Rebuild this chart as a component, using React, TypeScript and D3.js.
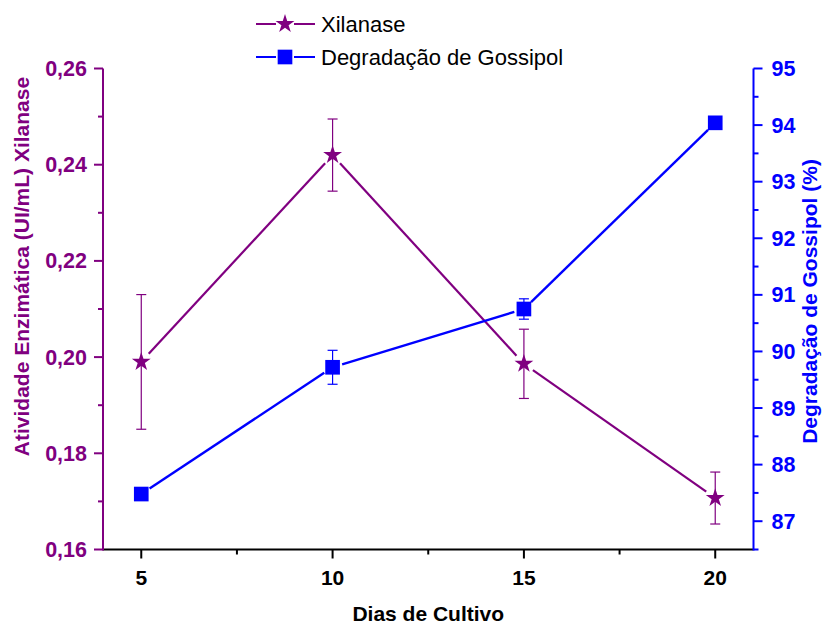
import * as React from 'react';
import * as d3 from 'd3';

const days = [5, 10, 15, 20];
const xilanase = [0.199, 0.242, 0.1986, 0.1707];
const xilanaseErr = [0.014, 0.0075, 0.0072, 0.0054];
const gossipol = [87.48, 89.72, 90.75, 94.04];
const gossipolErr = [0.05, 0.3, 0.18, 0.05];

const xMajor = [5, 10, 15, 20];
const xMinor = [7.5, 12.5, 17.5];
const leftMajor = [0.16, 0.18, 0.2, 0.22, 0.24, 0.26];
const leftMinor = [0.17, 0.19, 0.21, 0.23, 0.25];
const rightMajor = [87, 88, 89, 90, 91, 92, 93, 94, 95];
const rightMinor = [86.5, 87.5, 88.5, 89.5, 90.5, 91.5, 92.5, 93.5, 94.5];

const PURPLE = '#800080';
const BLUE = '#0000FF';
const FONT = '"Liberation Sans", Arial, sans-serif';

const width = 828;
const height = 628;
const left = 103;
const right = 753.5;
const top = 68.5;
const bottom = 549.5;

const x = d3.scaleLinear().domain([4, 21]).range([left, right]);
const yL = d3.scaleLinear().domain([0.16, 0.26]).range([bottom, top]);
const yR = d3.scaleLinear().domain([86.5, 95]).range([bottom, top]);

const star = d3.symbol(d3.symbolStar, 110)() || '';
const square = d3.symbol(d3.symbolSquare, 215)() || '';

// segments between points, with a gap around each marker
function gappedSegments(pts: [number, number][], gap: number) {
  const segs: string[] = [];
  for (let i = 0; i < pts.length - 1; i++) {
    const [x1, y1] = pts[i];
    const [x2, y2] = pts[i + 1];
    const len = Math.hypot(x2 - x1, y2 - y1);
    const ux = (x2 - x1) / len;
    const uy = (y2 - y1) / len;
    segs.push(`M${x1 + ux * gap},${y1 + uy * gap}L${x2 - ux * gap},${y2 - uy * gap}`);
  }
  return segs;
}

const fmtL = (v: number) => v.toFixed(2).replace('.', ',');

const App: React.FC = () => {
  const xPts = days.map((d, i) => [x(d), yL(xilanase[i])] as [number, number]);
  const gPts = days.map((d, i) => [x(d), yR(gossipol[i])] as [number, number]);

  return (
    <svg width={width} height={height} style={{ position: 'absolute', left: 0, top: 0 }} fontFamily={FONT}>
      <rect width={width} height={height} fill="white" />

      {/* error bars */}
      <g stroke={PURPLE} strokeWidth={1.2}>
        {days.map((d, i) => {
          const cx = x(d);
          const y1 = yL(xilanase[i] + xilanaseErr[i]);
          const y2 = yL(xilanase[i] - xilanaseErr[i]);
          return (
            <g key={i}>
              <line x1={cx} x2={cx} y1={y1} y2={y2} />
              <line x1={cx - 5} x2={cx + 5} y1={y1} y2={y1} />
              <line x1={cx - 5} x2={cx + 5} y1={y2} y2={y2} />
            </g>
          );
        })}
      </g>
      <g stroke={BLUE} strokeWidth={1.2}>
        {days.map((d, i) => {
          const cx = x(d);
          const y1 = yR(gossipol[i] + gossipolErr[i]);
          const y2 = yR(gossipol[i] - gossipolErr[i]);
          return (
            <g key={i}>
              <line x1={cx} x2={cx} y1={y1} y2={y2} />
              <line x1={cx - 5} x2={cx + 5} y1={y1} y2={y1} />
              <line x1={cx - 5} x2={cx + 5} y1={y2} y2={y2} />
            </g>
          );
        })}
      </g>

      {/* lines */}
      <g fill="none" stroke={PURPLE} strokeWidth={2.2}>
        {gappedSegments(xPts, 11).map((s, i) => <path key={i} d={s} />)}
      </g>
      <g fill="none" stroke={BLUE} strokeWidth={2.4}>
        {gappedSegments(gPts, 10).map((s, i) => <path key={i} d={s} />)}
      </g>

      {/* markers */}
      {gPts.map(([px, py], i) => (
        <path key={i} d={square} transform={`translate(${px},${py})`} fill={BLUE} />
      ))}
      {xPts.map(([px, py], i) => (
        <path key={i} d={star} transform={`translate(${px},${py})`} fill={PURPLE} />
      ))}

      {/* bottom axis */}
      <line x1={left} x2={right} y1={bottom} y2={bottom} stroke="black" strokeWidth={2} />
      <g stroke="black" strokeWidth={2}>
        {xMajor.map((t) => <line key={t} x1={x(t)} x2={x(t)} y1={bottom} y2={bottom + 9} />)}
        {xMinor.map((t) => <line key={t} x1={x(t)} x2={x(t)} y1={bottom} y2={bottom + 5} />)}
      </g>
      <g fontSize={21} fontWeight="bold" textAnchor="middle" fill="black">
        {xMajor.map((t) => <text key={t} x={x(t)} y={bottom + 35}>{t}</text>)}
      </g>
      <text x={(left + right) / 2} y={621} textAnchor="middle" fontSize={21} fontWeight="bold">
        Dias de Cultivo
      </text>

      {/* left axis */}
      <line x1={left} x2={left} y1={top} y2={bottom + 1} stroke={PURPLE} strokeWidth={2} />
      <g stroke={PURPLE} strokeWidth={2}>
        {leftMajor.map((t) => <line key={t} x1={left - 9} x2={left} y1={yL(t)} y2={yL(t)} />)}
        {leftMinor.map((t) => <line key={t} x1={left - 5} x2={left} y1={yL(t)} y2={yL(t)} />)}
      </g>
      <g fontSize={21.5} fontWeight="bold" textAnchor="end" fill={PURPLE}>
        {leftMajor.map((t) => <text key={t} x={left - 16} y={yL(t) + 7.5}>{fmtL(t)}</text>)}
      </g>
      <text
        transform={`translate(29,266.5) rotate(-90)`}
        textAnchor="middle"
        fontSize={21}
        fontWeight="bold"
        fill={PURPLE}
      >
        Atividade Enzimática (UI/mL) Xilanase
      </text>

      {/* right axis */}
      <line x1={right} x2={right} y1={top} y2={bottom + 1} stroke={BLUE} strokeWidth={2} />
      <g stroke={BLUE} strokeWidth={2}>
        {rightMajor.map((t) => <line key={t} x1={right} x2={right + 9} y1={yR(t)} y2={yR(t)} />)}
        {rightMinor.map((t) => <line key={t} x1={right} x2={right + 5} y1={yR(t)} y2={yR(t)} />)}
      </g>
      <g fontSize={21.5} fontWeight="bold" textAnchor="start" fill={BLUE}>
        {rightMajor.map((t) => <text key={t} x={right + 18} y={yR(t) + 7.5}>{t}</text>)}
      </g>
      <text
        transform={`translate(817,301.5) rotate(-90)`}
        textAnchor="middle"
        fontSize={21}
        fontWeight="bold"
        fill={BLUE}
      >
        Degradação de Gossipol (%)
      </text>

      {/* legend */}
      <g>
        <line x1={256} x2={276} y1={24} y2={24} stroke={PURPLE} strokeWidth={2} />
        <line x1={294} x2={315} y1={24} y2={24} stroke={PURPLE} strokeWidth={2} />
        <path d={star} transform="translate(285,24)" fill={PURPLE} />
        <text x={321} y={32} fontSize={22}>Xilanase</text>
        <line x1={256} x2={276} y1={57} y2={57} stroke={BLUE} strokeWidth={2} />
        <line x1={294} x2={315} y1={57} y2={57} stroke={BLUE} strokeWidth={2} />
        <path d={square} transform="translate(285,57)" fill={BLUE} />
        <text x={321} y={65} fontSize={22}>Degradação de Gossipol</text>
      </g>
    </svg>
  );
};

export default App;
